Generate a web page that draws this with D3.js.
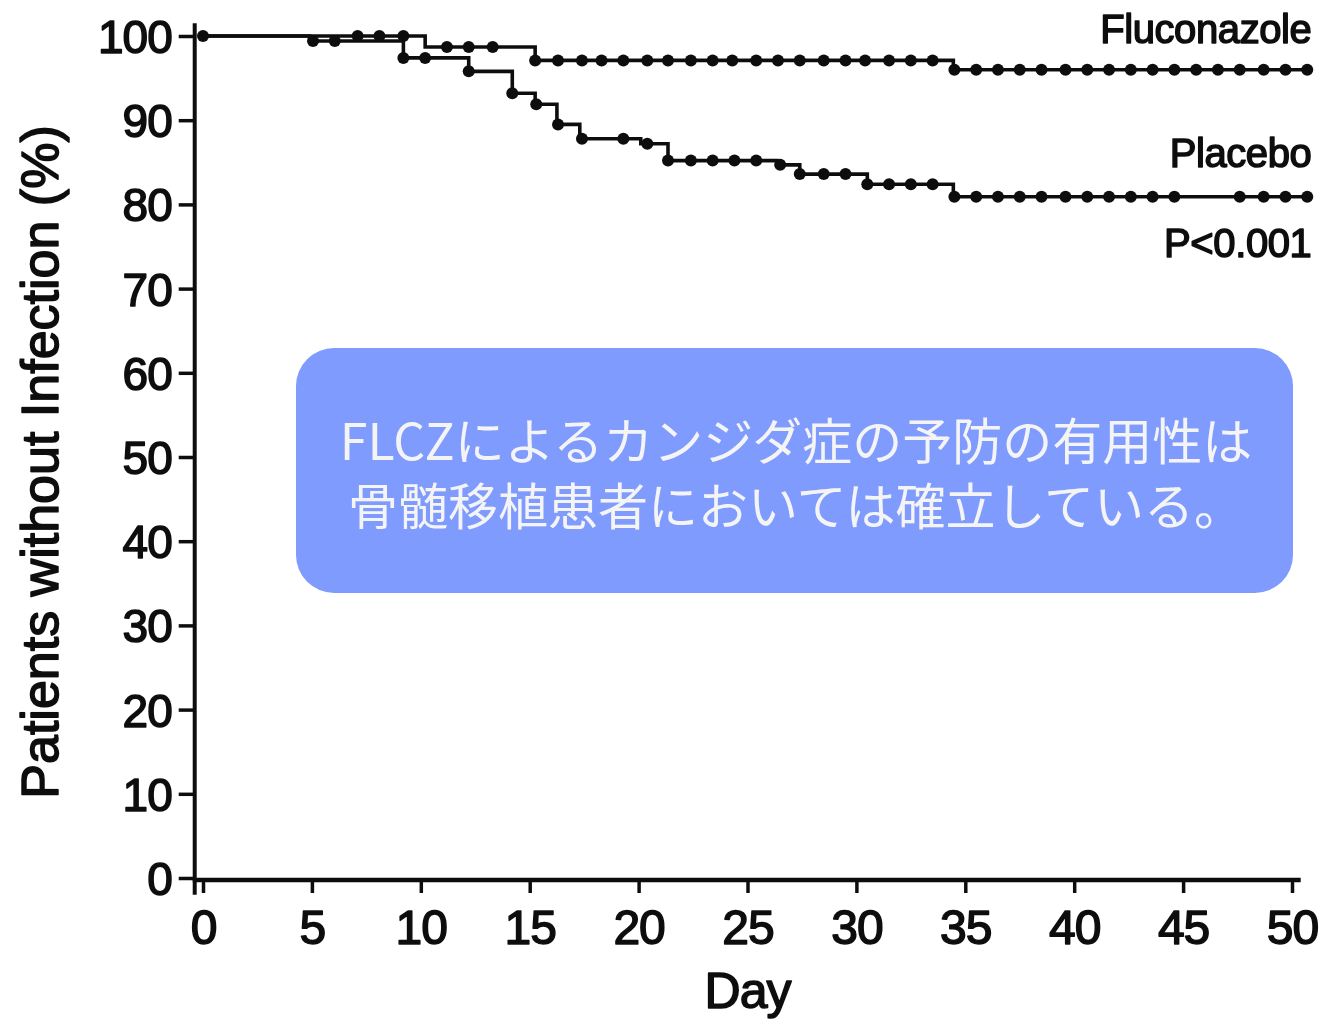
<!DOCTYPE html>
<html lang="ja">
<head>
<meta charset="utf-8">
<script src="https://cdn.jsdelivr.net/npm/d3@7/dist/d3.min.js"></script>
<style>
  html, body { margin: 0; padding: 0; background: #ffffff; }
  svg { display: block; }
  .latin { font-family: "Liberation Sans", Arial, Helvetica, sans-serif; fill: #111; stroke: #111; stroke-width: 1.5px; stroke-linejoin: round; }
</style>
</head>
<body>
<svg id="chart" width="1321" height="1020"></svg>
<script>
// Kaplan–Meier estimates: patients without infection (%) by day
const fluconazoleStepDays = [0, 10.2, 15.25, 34.45];
const fluconazoleSurvival = [100, 98.7, 97.1, 96.0];
const fluconazoleCensorDays = [0, 7.1, 8.1, 9.2, 11.2, 12.2, 13.3, 15.25, 16.3, 17.4, 18.3, 19.3, 20.4,
  21.35, 22.4, 23.4, 24.3, 25.4, 26.4, 27.4, 28.5, 29.5, 30.4, 31.5, 32.5, 33.5, 34.5, 35.5, 36.5,
  37.5, 38.5, 39.6, 40.6, 41.6, 42.6, 43.6, 44.6, 45.6, 46.6, 47.6, 48.7, 49.7, 50.7];

const placeboStepDays = [0, 4.9, 9.2, 12.2, 14.2, 15.25, 16.25, 17.3, 20.1, 21.35, 26.35, 27.4, 30.5, 34.45];
const placeboSurvival = [100, 99.4, 97.4, 95.8, 93.2, 91.9, 89.5, 87.8, 87.2, 85.2, 84.7, 83.6, 82.4, 80.9];
const placeboCensorDays = [5.05, 6.05, 9.2, 10.2, 12.2, 14.2, 15.3, 16.3, 17.4, 19.3, 20.4, 21.35, 22.4,
  23.4, 24.4, 25.4, 26.5, 27.4, 28.5, 29.5, 30.5, 31.5, 32.5, 33.5, 34.5, 35.5, 36.5, 37.5, 38.5,
  39.6, 40.6, 41.6, 42.6, 43.6, 44.6, 47.6, 48.7, 49.7, 50.7];

const followUpEnd = 50.8;

const xTicks = [0, 5, 10, 15, 20, 25, 30, 35, 40, 45, 50];
const yTicks = [0, 10, 20, 30, 40, 50, 60, 70, 80, 90, 100];

const seriesLabels = ["Fluconazole", "Placebo"];
const pValueLabel = "P<0.001";
const xTitle = "Day";
const yTitle = "Patients without Infection (%)";
const noteLines = ["FLCZによるカンジダ症の予防の有用性は", "骨髄移植患者においては確立している。"];

const svg = d3.select("#chart");

const x = d3.scaleLinear().domain([0, 50]).range([203, 1292]);
const y = d3.scaleLinear().domain([0, 100]).range([878, 36]);
const axisX = x(-0.38);   // vertical axis sits just left of day 0

// soft print look for the figure
const defs = svg.append("defs");
defs.append("filter").attr("id", "soft")
  .attr("x", "-5%").attr("y", "-5%").attr("width", "110%").attr("height", "110%")
  .append("feGaussianBlur").attr("stdDeviation", 0.7);

const fig = svg.append("g").attr("filter", "url(#soft)");

// ---- axes ----
const yAxis = d3.axisLeft(y).tickValues(yTicks).tickSize(16).tickPadding(7).tickSizeOuter(0);
const gy = fig.append("g").attr("transform", `translate(${axisX},0)`).call(yAxis);
gy.select(".domain").remove();
gy.selectAll(".tick line").attr("stroke", "#111").attr("stroke-width", 3.5);
gy.selectAll(".tick text")
  .attr("class", "latin")
  .style("font-size", "46px")
  .attr("letter-spacing", "-1px")
  .attr("dy", "0.36em");

fig.append("line")
  .attr("x1", axisX).attr("x2", axisX)
  .attr("y1", y(101.5)).attr("y2", y(-2))
  .attr("stroke", "#111").attr("stroke-width", 4);

const xAxis = d3.axisBottom(x).tickValues(xTicks).tickSize(13).tickPadding(17).tickSizeOuter(0);
const gx = fig.append("g").attr("transform", `translate(0,${y(0) + 2})`).call(xAxis);
gx.select(".domain").remove();
gx.selectAll(".tick line").attr("stroke", "#111").attr("stroke-width", 3.5);
gx.selectAll(".tick text")
  .attr("class", "latin")
  .style("font-size", "48px")
  .attr("letter-spacing", "-1px");

fig.append("line")
  .attr("x1", axisX - 2).attr("x2", x(50.4))
  .attr("y1", y(0) + 2).attr("y2", y(0) + 2)
  .attr("stroke", "#111").attr("stroke-width", 4.5);

// axis titles
fig.append("text")
  .attr("class", "latin")
  .attr("transform", `translate(58,462) rotate(-90)`)
  .attr("text-anchor", "middle")
  .style("font-size", "52px")
  .attr("letter-spacing", "0px")
  .text(yTitle);

fig.append("text")
  .attr("class", "latin")
  .attr("x", x(25)).attr("y", 1008)
  .attr("text-anchor", "middle")
  .style("font-size", "50px")
  .attr("letter-spacing", "-1px")
  .text(xTitle);

// ---- survival curves ----
function stepPoints(stepDays, values, endDay) {
  const pts = stepDays.map((d, i) => [d, values[i]]);
  pts.push([endDay, values[values.length - 1]]);
  return pts;
}
function valueAt(stepDays, values, day) {
  const i = d3.bisectRight(stepDays, day + 1e-9) - 1;
  return values[Math.max(0, i)];
}

const line = d3.line().x(d => x(d[0])).y(d => y(d[1])).curve(d3.curveStepAfter);

const series = [
  { steps: fluconazoleStepDays, values: fluconazoleSurvival, censor: fluconazoleCensorDays },
  { steps: placeboStepDays, values: placeboSurvival, censor: placeboCensorDays }
];

series.forEach(s => {
  fig.append("path")
    .datum(stepPoints(s.steps, s.values, followUpEnd))
    .attr("d", line)
    .attr("fill", "none")
    .attr("stroke", "#111")
    .attr("stroke-width", 3.6);

  fig.append("g").selectAll("circle")
    .data(s.censor)
    .join("circle")
    .attr("cx", d => x(d))
    .attr("cy", d => y(valueAt(s.steps, s.values, d)))
    .attr("r", 6)
    .attr("fill", "#111");
});

// series labels and p-value
const labelX = x(50.8) + 2;
[[seriesLabels[0], 43], [seriesLabels[1], 167], [pValueLabel, 257]].forEach(([t, yy]) => {
  fig.append("text")
    .attr("class", "latin")
    .attr("x", labelX).attr("y", yy)
    .attr("text-anchor", "end")
    .style("font-size", "40px")
    .attr("letter-spacing", "-0.4px")
    .text(t);
});

// ---- note box ----
const note = svg.append("g");
note.append("rect")
  .attr("x", 296).attr("y", 348)
  .attr("width", 997).attr("height", 245)
  .attr("rx", 38).attr("ry", 38)
  .attr("fill", "#7f9bfd");

note.selectAll("text")
  .data(noteLines)
  .join("text")
  .attr("x", 796)
  .attr("y", (d, i) => 438 + i * 65)
  .attr("text-anchor", "middle")
  .attr("dominant-baseline", "central")
  .attr("fill", "#f4f4f4")
  .style("font-family", "'Noto Sans CJK JP', 'Noto Sans', sans-serif")
  .style("font-size", "50px")
  .text(d => d);
</script>
</body>
</html>
